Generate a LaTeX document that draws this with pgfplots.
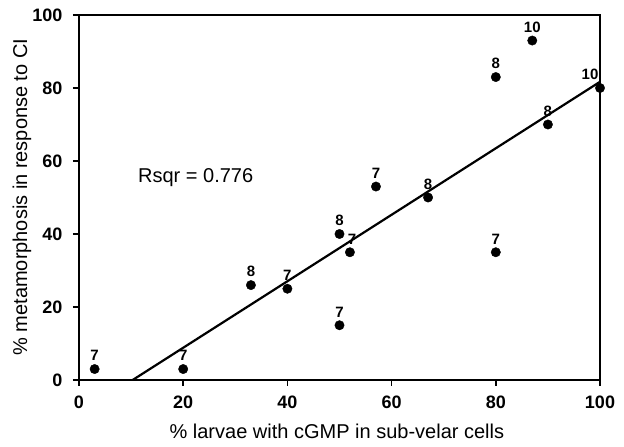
\documentclass[border=0pt]{standalone}
\usepackage{pgfplots}
\pgfplotsset{compat=1.18}
\usepackage{pgfplotstable}
\usepackage{fontspec}
\setmainfont{Liberation Sans}
\pgfplotstableread{
x y n dx
3 3 7 0
20 3 7 0
33 26 8 0
40 25 7 0
50 15 7 0
50 40 8 0
52 35 7 2
57 53 7 0
67 50 8 0
80 35 7 0
80 83 8 0
87 93 10 0
90 70 8 0
100 80 10 -10
}\datatable
\begin{document}
\begin{tikzpicture}
\begin{axis}[
  scale only axis,
  width=521pt, height=365pt,
  xmin=0, xmax=100, ymin=0, ymax=100,
  xtick={0,20,...,100}, ytick={0,20,...,100},
  tick align=outside,
  xtick pos=bottom, ytick pos=left,
  major tick length=6pt,
  axis line style={line width=1.5pt},
  every tick/.style={line width=1.5pt, black},
  /pgf/number format/assume math mode=true,
  tick label style={font=\bfseries\fontsize{18}{20}\selectfont},
  xticklabel style={yshift=-6pt},
  yticklabel style={xshift=-7pt},
  xlabel={\% larvae with cGMP in sub-velar cells},
  ylabel={\% metamorphosis in response to CI},
  label style={font=\fontsize{20}{22}\selectfont},
  xlabel style={at={(axis description cs:0.495,-0.159)}, anchor=base},
  ylabel style={at={(axis description cs:-0.0998,0.501)}, anchor=base, rotate=0},
  clip=false,
]
\addplot[black, line width=2.2pt] coordinates {(10.3,0) (100,81.7)};
\addplot[only marks, mark=*, mark size=4.7pt, black,
  visualization depends on={\thisrow{dx} \as \dx},
  nodes near coords, point meta=explicit symbolic,
  nodes near coords style={font=\bfseries\fontsize{15}{17}\selectfont, anchor=south, inner sep=0pt, yshift=8pt, xshift=\dx pt}]
  table[x=x, y=y, meta=n] {\datatable};
\node[anchor=base, font=\fontsize{20}{22}\selectfont] at (axis cs:22.4,54.0) {Rsqr = 0.776};
\end{axis}
\path (current axis.south west) ++(-79pt,-67pt) rectangle ++(624pt,447pt);
\end{tikzpicture}
\end{document}
